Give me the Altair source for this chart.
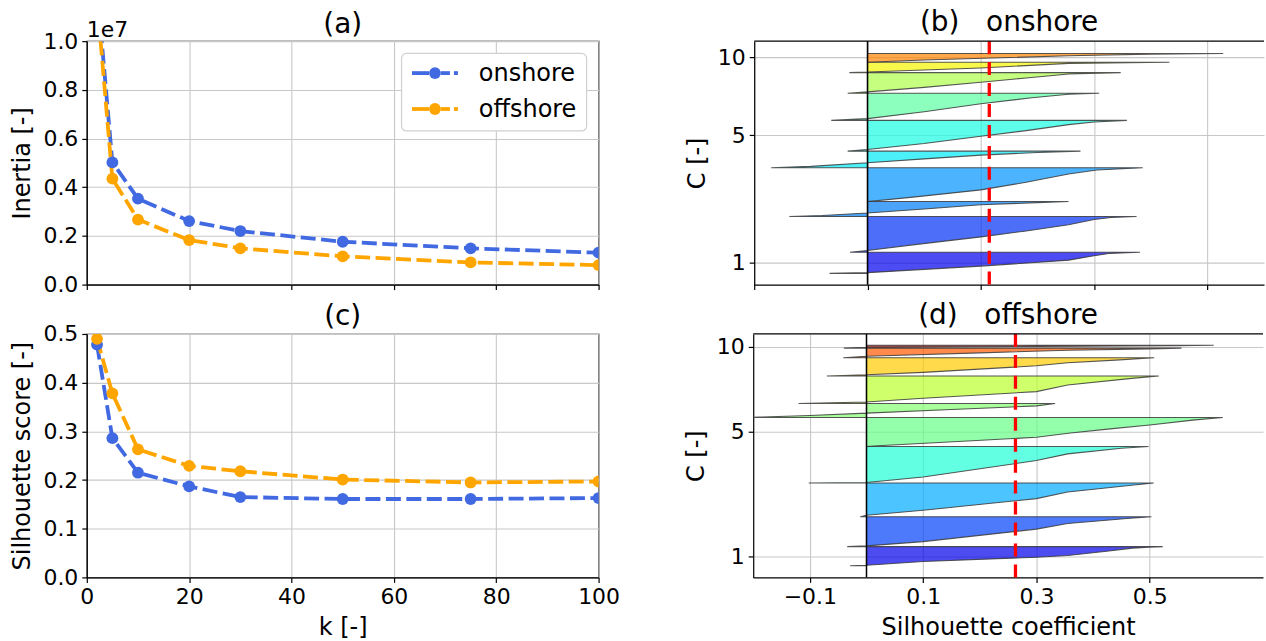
import altair as alt
import pandas as pd

FONT = "DejaVu Sans"
BLUE = "#4169e1"
ORANGE = "#ffa500"
GRID = "#c8c8c8"

# ---------------- elbow / silhouette-score data ----------------
series_names = ["onshore", "offshore"]
series_colors = [BLUE, ORANGE]
k_values = [2, 5, 10, 20, 30, 50, 75, 100]
inertia_onshore = [12.2e6, 5.02e6, 3.53e6, 2.61e6, 2.20e6, 1.76e6, 1.49e6, 1.31e6]
inertia_offshore = [11.7e6, 4.35e6, 2.67e6, 1.83e6, 1.49e6, 1.16e6, 0.91e6, 0.80e6]
silscore_onshore = [0.478, 0.286, 0.215, 0.187, 0.165, 0.161, 0.161, 0.163]
silscore_offshore = [0.490, 0.378, 0.263, 0.229, 0.218, 0.201, 0.195, 0.197]

# ---------------- silhouette bands (cumulative sample position, sorted coefficient) ----------------
on_pos = [
    [11.3, 12.0, 18.6, 24.6, 29.0, 31.3, 32.6],
    [32.6, 34.3, 40.0, 48.0, 54.0, 60.3, 65.5, 67.5, 68.6],
    [68.6, 69.5, 72.0, 76.0, 80.3, 82.5, 83.6],
    [83.6, 88.0, 95.3, 103.0, 111.3, 115.3, 117.6],
    [117.6, 119.0, 122.6, 126.5, 130.3, 133.0, 134.3],
    [134.3, 136.0, 142.0, 149.3, 155.0, 161.0, 163.7, 165.3],
    [165.3, 167.0, 174.0, 182.0, 188.0, 191.5, 192.6],
    [192.6, 194.0, 198.5, 203.6, 208.0, 212.0, 213.3],
    [213.3, 214.0, 218.0, 222.6, 223.8],
    [223.8, 226.0, 228.5, 230.3, 232.0, 232.6],
]
on_coef = [
    [-0.067, 0.0, 0.20, 0.355, 0.40, 0.426, 0.481],
    [-0.031, 0.0, 0.08, 0.20, 0.28, 0.355, 0.40, 0.43, 0.475],
    [-0.138, -0.08, 0.0, 0.10, 0.20, 0.30, 0.355],
    [0.0, 0.08, 0.20, 0.28, 0.355, 0.405, 0.486],
    [-0.170, -0.10, 0.0, 0.10, 0.20, 0.30, 0.376],
    [-0.035, 0.0, 0.10, 0.20, 0.28, 0.355, 0.40, 0.458],
    [-0.064, 0.0, 0.10, 0.20, 0.29, 0.355, 0.409],
    [-0.035, 0.0, 0.10, 0.20, 0.28, 0.355, 0.447],
    [-0.032, 0.0, 0.20, 0.355, 0.533],
    [0.0, 0.10, 0.25, 0.355, 0.50, 0.628],
]
on_colors = ["#0000ec", "#0030f5", "#007df5", "#0094ff", "#00eaf5",
             "#19fbe1", "#5bffa2", "#aeff4a", "#f5f500", "#ff8300"]
on_mean = 0.215
on_tick_pos = [22.0, 150.3, 228.5]

off_pos = [
    [11.7, 12.2, 16.0, 20.3, 22.0, 26.0, 29.5, 30.5, 31.0],
    [31.0, 31.7, 36.0, 48.6, 54.3, 59.3, 61.0],
    [61.0, 62.5, 67.6, 79.3, 86.0, 92.7, 95.0],
    [95.0, 95.5, 101.0, 117.6, 124.3, 130.0, 131.7],
    [131.7, 132.5, 137.0, 141.0, 145.3, 149.5, 153.3, 158.5, 161.0],
    [161.0, 163.0, 165.3, 169.0, 172.6, 175.0],
    [175.0, 176.5, 180.3, 187.0, 193.6, 200.3, 202.7],
    [202.7, 204.0, 206.3, 213.0, 216.0, 218.7, 221.0],
    [221.0, 222.5, 226.0, 228.6, 230.0, 230.8],
    [230.8, 231.5, 232.5, 233.3, 233.7],
]
off_coef = [
    [-0.029, 0.0, 0.10, 0.30, 0.355, 0.42, 0.47, 0.50, 0.523],
    [-0.034, 0.0, 0.10, 0.30, 0.355, 0.46, 0.503],
    [-0.011, 0.0, 0.10, 0.30, 0.355, 0.468, 0.507],
    [-0.102, 0.0, 0.10, 0.30, 0.355, 0.45, 0.498],
    [0.0, 0.02, 0.17, 0.30, 0.36, 0.43, 0.50, 0.58, 0.629],
    [-0.21, -0.10, 0.0, 0.15, 0.30, 0.333],
    [-0.120, 0.0, 0.10, 0.30, 0.355, 0.468, 0.516],
    [-0.070, 0.0, 0.10, 0.30, 0.355, 0.44, 0.508],
    [-0.041, 0.0, 0.20, 0.355, 0.50, 0.556],
    [-0.040, 0.0, 0.30, 0.55, 0.613],
]
off_colors = ["#0000ea", "#0041f8", "#00abff", "#1fffd6", "#66ff86",
              "#83ff70", "#bcff2d", "#ffcc00", "#ff5800", "#a00000"]
off_mean = 0.263
off_tick_pos = [21.3, 146.8, 232.3]
cluster_tick_labels = ["1", "5", "10"]

LW = 513
LH = 244
RW = 511
RH = 244
NB = "\u00a0"


def k_frame(on, off):
    rows = []
    for name, vals in zip(series_names, [on, off]):
        for k, v in zip(k_values, vals):
            rows.append({"k": k, "v": v, "series": name})
    return pd.DataFrame(rows)


def legend_layers():
    """Legend box drawn inside panel (a): dashed line + marker + label for each series."""
    one = pd.DataFrame({"z": [0]})
    out = [alt.Chart(one).mark_rect(fill="white", stroke="#d0d0d0", strokeWidth=1.2, cornerRadius=5).encode(
        x=alt.value(315.5), x2=alt.value(501), y=alt.value(12.3), y2=alt.value(90))]
    for i, (name, col) in enumerate(zip(series_names, series_colors)):
        yy = 32 + 36 * i
        for x1, x2 in [(326, 343), (355, 364), (368, 372)]:
            out.append(alt.Chart(one).mark_rule(color=col, strokeWidth=3.8).encode(
                x=alt.value(x1), x2=alt.value(x2), y=alt.value(yy)))
        out.append(alt.Chart(one).mark_point(filled=True, size=140, color=col, opacity=1).encode(
            x=alt.value(349), y=alt.value(yy)))
        out.append(alt.Chart(pd.DataFrame({"series": [name]})).mark_text(
            align="left", baseline="middle", fontSize=24, font=FONT, color="black", dy=1).encode(
            text="series:N", x=alt.value(393), y=alt.value(yy)))
    return out


def k_layers(df, ydomain, yvalues, ytitle, bottom, label_expr=None, fmt=None):
    xaxis = alt.Axis(values=[0, 20, 40, 60, 80, 100], labels=bottom, labelFlush=False,
                     title="k [-]" if bottom else None)
    yaxis_kw = dict(values=yvalues, title=ytitle)
    if label_expr:
        yaxis_kw["labelExpr"] = label_expr
    if fmt:
        yaxis_kw["format"] = fmt
    x = alt.X("k:Q", scale=alt.Scale(domain=[0, 100], nice=False), axis=xaxis)
    y = alt.Y("v:Q", scale=alt.Scale(domain=ydomain, nice=False), axis=alt.Axis(**yaxis_kw))
    cscale = alt.Scale(domain=series_names, range=series_colors)
    line = alt.Chart(df).mark_line(strokeDash=[15, 5.5], strokeWidth=3.8, clip=True).encode(
        x=x, y=y, color=alt.Color("series:N", scale=cscale, legend=None),
    )
    pts = alt.Chart(df).mark_point(filled=True, size=140, opacity=1, clip=True).encode(
        x=x, y=y, color=alt.Color("series:N", scale=cscale, legend=None),
    )
    return [line, pts]


df_in = k_frame(inertia_onshore, inertia_offshore)
df_sc = k_frame(silscore_onshore, silscore_offshore)


def ttl(text, off):
    return alt.TitleParams(text, fontSize=28, font=FONT, fontWeight="normal", baseline="alphabetic",
                           offset=off, color="black")


a_layers = k_layers(df_in, [0, 1e7], [0, 2e6, 4e6, 6e6, 8e6, 1e7], "Inertia [-]", False,
                    label_expr="format(datum.value / 1e7, '.1f')")
exp_text = alt.Chart(pd.DataFrame({"t": ["1e7"]})).mark_text(
    align="left", baseline="alphabetic", fontSize=22, font=FONT, color="black"
).encode(text="t:N", x=alt.value(0), y=alt.value(-4))
chart_a = alt.layer(*a_layers, exp_text, *legend_layers()).properties(
    width=LW, height=LH, title=ttl("(a)", -41.5),
    view=alt.ViewBackground(stroke="black", strokeWidth=1.2),
)

c_layers = k_layers(df_sc, [0, 0.5], [0, 0.1, 0.2, 0.3, 0.4, 0.5], "Silhouette score [-]", True,
                    fmt=".1f")
chart_c = alt.layer(*c_layers).properties(
    width=LW, height=LH, title=ttl("(c)", -30.5),
    view=alt.ViewBackground(stroke="black", strokeWidth=1.2),
)


def sil_chart(pos, coef, colors, mean, tick_pos, title, bottom):
    rows = []
    for ci, (p, c) in enumerate(zip(pos, coef)):
        for pp, cc in zip(p, c):
            rows.append({"cluster": ci + 1, "pos": pp, "coef": cc})
    df = pd.DataFrame(rows)
    xscale = alt.Scale(domain=[-0.2, 0.7], nice=False, zero=False)
    yscale = alt.Scale(domain=[0, 245], nice=False, zero=False)
    expr = " : ".join(f"datum.value == {p} ? '{l}'" for p, l in zip(tick_pos, cluster_tick_labels)) + " : ''"
    if bottom:
        xaxis = alt.Axis(values=[-0.1, 0.1, 0.3, 0.5], format=".1f", labelFlush=False,
                         title="Silhouette coefficient")
    else:
        xaxis = alt.Axis(values=[-0.2, 0.0, 0.2, 0.4, 0.6], labels=False, title=None)
    yaxis = alt.Axis(values=tick_pos, labelExpr=expr, title="C [-]")
    layers = []
    for i, col in enumerate(colors):
        band = alt.Chart(df).transform_filter(alt.datum.cluster == i + 1).mark_area(
            orient="horizontal", fill=col, fillOpacity=0.7, stroke="#3a3a3a",
            strokeWidth=1.1, strokeOpacity=0.85, clip=True).encode(
            y=alt.Y("pos:Q", scale=yscale, axis=yaxis if i == 0 else alt.Undefined),
            x=alt.X("coef:Q", scale=xscale, axis=xaxis if i == 0 else alt.Undefined),
            x2=alt.datum(0),
        )
        layers.append(band)
    zero = alt.Chart(pd.DataFrame({"z": [0.0]})).mark_rule(color="black", strokeWidth=1.5).encode(x="z:Q")
    mline = alt.Chart(pd.DataFrame({"m": [mean]})).mark_rule(
        color="red", strokeWidth=3.3, strokeDash=[13, 8]).encode(x="m:Q")
    top = alt.Chart(pd.DataFrame({"t": [0]})).mark_rule(color="black", strokeWidth=1.2).encode(
        x=alt.value(0), x2=alt.value(RW), y=alt.value(0))
    return alt.layer(*layers, zero, mline, top).properties(
        width=RW, height=RH, title=ttl(title, -19.5),
        view=alt.ViewBackground(stroke="transparent"),
    )


chart_b = sil_chart(on_pos, on_coef, on_colors, on_mean, on_tick_pos, f"(b){NB}{NB} onshore", False)
chart_d = sil_chart(off_pos, off_coef, off_colors, off_mean, off_tick_pos, f"(d){NB}{NB} offshore", True)

top_row = alt.hconcat(chart_a, chart_b, spacing=84)
bottom_row = alt.hconcat(chart_c, chart_d, spacing=63)

chart = alt.vconcat(top_row, bottom_row, spacing=4.5).properties(
    padding={"left": 10, "top": 7.5, "right": 0, "bottom": 0}
).configure_axis(
    labelFont=FONT, labelFontSize=22, labelColor="black",
    titleFont=FONT, titleFontSize=24, titleFontWeight="normal", titleColor="black",
    tickColor="black", tickSize=5, tickWidth=1.2, domainColor="black", domainWidth=1.2,
    labelPadding=4, titlePadding=8, gridColor=GRID, gridWidth=1.1,
).configure_view(stroke="black")

chart.save("out.html", embed_options={"renderer": "svg", "actions": False})
